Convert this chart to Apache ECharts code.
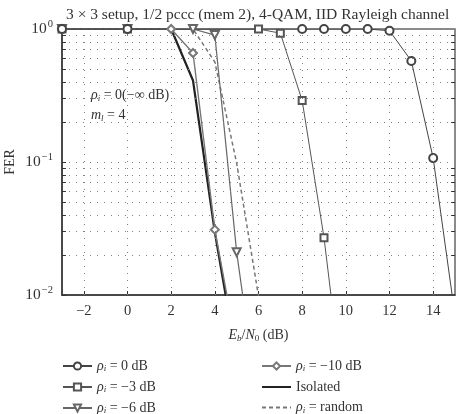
<!DOCTYPE html>
<html>
<head>
<meta charset="utf-8">
<script src="https://cdn.jsdelivr.net/npm/echarts@6/dist/echarts.min.js"></script>
<style>html,body{margin:0;padding:0;background:#fff;}#c{width:459px;height:414px;}</style>
</head>
<body>
<div id="c"></div>
<script>
// ---- data ----
const rho0X  = [-3, 0, 8, 9, 10, 11, 12, 13, 14, 15];
const rho0Y  = [1, 1, 1, 1, 1, 1, 0.97, 0.575, 0.107, 0.007];
const rho3X  = [-3, 0, 6, 7, 8, 9, 10];
const rho3Y  = [1, 1, 1, 0.93, 0.29, 0.027, 0.0012];
const rho6X  = [-3, 0, 3, 4, 5, 6];
const rho6Y  = [1, 1, 1, 0.9, 0.021, 0.0014];
const rho10X = [-3, 0, 2, 3, 4, 5];
const rho10Y = [1, 1, 1, 0.66, 0.031, 0.004];
const isoX   = [-3, 0, 2, 3, 4, 5];
const isoY   = [1, 1, 1, 0.41, 0.0296, 0.0033];
const randX  = [-3, 0, 2, 3, 4, 5, 6];
const randY  = [1, 1, 1, 1, 0.565, 0.098, 0.0098];

const xTicks = [-2, 0, 2, 4, 6, 8, 10, 12, 14];
const yMinor = [0.02,0.03,0.04,0.05,0.06,0.07,0.08,0.09,0.2,0.3,0.4,0.5,0.6,0.7,0.8,0.9];
const yLabels = {'0.01': '−2', '0.1': '−1', '1': '0'};
const xMin = -3, xMax = 15, tickLen = 0.18;

const serif = 'Liberation Serif';
const zip = (xs, ys) => xs.map((x, i) => [x, ys[i]]);

const chart = echarts.init(document.getElementById('c'), null, {renderer: 'canvas'});

const dotted = () => ({type: [1, 6], color: '#808080', width: 1});
const gridLines = [].concat(
  xTicks.map(v => ({xAxis: v})),
  yMinor.map(v => ({yAxis: v}))
);
const minorTicks = [].concat(
  yMinor.map(v => [{coord: [xMin, v]}, {coord: [xMin + tickLen, v]}]),
  yMinor.map(v => [{coord: [xMax - tickLen, v]}, {coord: [xMax, v]}])
);

const legendRich = {
  it: {fontFamily: serif, fontStyle: 'italic', fontWeight: 'normal', fontSize: 14, color: '#333'},
  sub: {fontFamily: serif, fontStyle: 'italic', fontWeight: 'normal', fontSize: 9, color: '#333', padding: [6, 0, 0, 0]},
  t: {fontFamily: serif, fontWeight: 'normal', fontSize: 14, color: '#333'}
};
const legendNames = {
  'r0': '{it|ρ}{sub|i}{t| = 0 dB}',
  'r3': '{it|ρ}{sub|i}{t| = −3 dB}',
  'r6': '{it|ρ}{sub|i}{t| = −6 dB}',
  'r10': '{it|ρ}{sub|i}{t| = −10 dB}',
  'iso': '{t|Isolated}',
  'rand': '{it|ρ}{sub|i}{t| = random}'
};

function lineSeries(name, xs, ys, symbol, color, width, extra) {
  return Object.assign({
    name: name, type: 'line', data: zip(xs, ys),
    symbol: symbol, symbolSize: 8, showSymbol: symbol !== 'none',
    itemStyle: {color: color, borderWidth: 1},
    lineStyle: {color: color, width: width},
    clip: true, animation: false, z: 3
  }, extra || {});
}

const legendBase = {
  orient: 'vertical', top: 359, height: 70, padding: 0,
  itemWidth: 29, itemHeight: 9, itemGap: 6.5,
  itemStyle: {borderWidth: 1},
  formatter: n => legendNames[n], textStyle: {rich: legendRich}, selectedMode: false
};

const option = {
  backgroundColor: '#fff',
  animation: false,
  title: [
    {text: '3 × 3 setup, 1/2 pccc (mem 2), 4-QAM, IID Rayleigh channel', left: 61, top: 2,
     textStyle: {fontFamily: serif, fontSize: 15.5, fontWeight: 'normal', color: '#333'}},
    {text: '{it|ρ}{sub|i}{t| = 0(−∞ dB)}', left: 86, top: 83,
     textStyle: {fontWeight: 'normal', rich: legendRich}},
    {text: '{it|m}{sub|l}{t| = 4}', left: 86, top: 103,
     textStyle: {fontWeight: 'normal', rich: legendRich}}
  ],
  grid: {left: 62, right: 4, top: 29, bottom: 119, outerBoundsMode: 'none', containLabel: false,
         show: true, borderColor: '#666', borderWidth: 1.5, backgroundColor: 'transparent'},
  xAxis: {
    type: 'value', min: xMin, max: xMax,
    name: '{it|E}{sub|b}{t|/}{it|N}{sub2|0}{t| (dB)}',
    nameLocation: 'middle', nameGap: 33, nameMoveOverlap: false,
    nameTextStyle: {rich: {
      it: {fontFamily: serif, fontStyle: 'italic', fontSize: 14, color: '#333'},
      sub: {fontFamily: serif, fontStyle: 'italic', fontSize: 9, color: '#333', padding: [6, 0, 0, 0]},
      sub2: {fontFamily: serif, fontSize: 9, color: '#333', padding: [6, 0, 0, 0]},
      t: {fontFamily: serif, fontSize: 14, color: '#333'}
    }},
    axisLine: {show: true, onZero: false, lineStyle: {color: '#333', width: 1.5}},
    axisTick: {show: true, inside: true, length: 4, customValues: xTicks, lineStyle: {color: '#333'}},
    axisLabel: {customValues: xTicks, fontFamily: serif, fontSize: 14.5, color: '#333', margin: 9,
      formatter: v => (v < 0 ? '−' + Math.abs(v) : String(v))},
    splitLine: {show: false}
  },
  yAxis: {
    type: 'log', logBase: 10, min: 0.01, max: 1,
    name: 'FER', nameLocation: 'middle', nameGap: 45, nameMoveOverlap: false,
    nameTextStyle: {fontFamily: serif, fontSize: 14, color: '#333'},
    axisLine: {show: true, onZero: false, lineStyle: {color: '#333', width: 1.5}},
    axisTick: {show: true, inside: true, length: 4, lineStyle: {color: '#333'}},
    axisLabel: {
      margin: 9,
      formatter: v => {
        const k = String(+v.toPrecision(3));
        return '{b|10}{s|' + (yLabels[k] || '') + '}';
      },
      rich: {
        b: {fontFamily: serif, fontSize: 15.5, color: '#333'},
        s: {fontFamily: serif, fontSize: 10.5, color: '#333', padding: [0, 0, 10, 1]}
      }
    },
    splitLine: {show: true, lineStyle: dotted()}
  },
  legend: [
    Object.assign({}, legendBase, {left: 62, data: ['r0', 'r3', 'r6']}),
    Object.assign({}, legendBase, {left: 261, data: [
      'r10',
      {name: 'iso', itemStyle: {opacity: 0}},
      {name: 'rand', itemStyle: {opacity: 0}}
    ]})
  ],
  series: [
    {type: 'line', data: [], silent: true, z: 1,
     markLine: {silent: true, symbol: 'none', label: {show: false}, lineStyle: dotted(), animation: false,
       data: gridLines}},
    {type: 'line', data: [], silent: true, z: 2,
     markLine: {silent: true, symbol: 'none', label: {show: false}, lineStyle: {type: 'solid', color: '#333', width: 1}, animation: false,
       data: minorTicks}},
    lineSeries('iso', isoX, isoY, 'none', '#222', 2.2),
    lineSeries('rand', randX, randY, 'none', '#777', 1.5, {lineStyle: {color: '#777', width: 1.5, type: [4, 3]}}),
    lineSeries('r10', rho10X, rho10Y, 'emptyDiamond', '#777', 1.4),
    lineSeries('r6', rho6X, rho6Y, 'emptyTriangle', '#666', 1.2, {symbolRotate: 180}),
    lineSeries('r3', rho3X, rho3Y, 'emptyRect', '#555', 1, {symbolSize: 7}),
    lineSeries('r0', rho0X, rho0Y, 'emptyCircle', '#444', 1, {symbolSize: 8})
  ]
};
chart.setOption(option);
</script>
</body>
</html>
